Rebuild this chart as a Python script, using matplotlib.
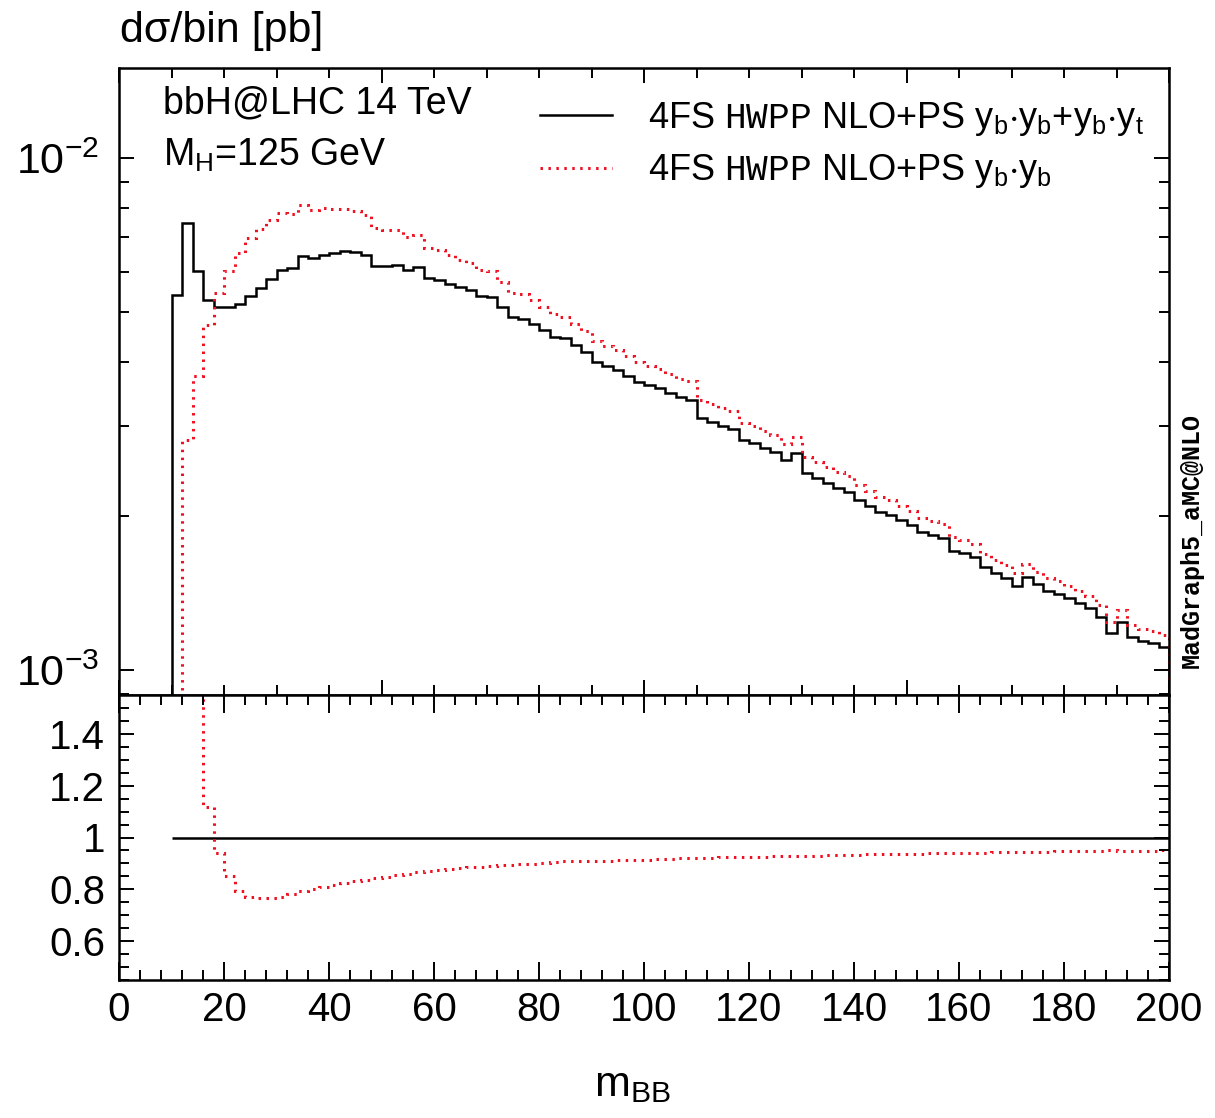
import numpy as np
import matplotlib
matplotlib.use("Agg")
import matplotlib.pyplot as plt
from matplotlib.ticker import MultipleLocator, FixedLocator, NullFormatter, FormatStrFormatter, LogLocator
from matplotlib.lines import Line2D

plt.rcParams['font.family'] = ['Liberation Sans', 'DejaVu Sans']
plt.rcParams['mathtext.fontset'] = 'custom'
plt.rcParams['mathtext.rm'] = 'Liberation Sans'
plt.rcParams['mathtext.it'] = 'Liberation Sans:italic'
plt.rcParams['mathtext.tt'] = 'Liberation Mono'
plt.rcParams['mathtext.default'] = 'regular'

# ---------------- data ----------------
# bin edges of m_BB (2 GeV bins), black histogram starts at 10 GeV
bin_edges = np.arange(10, 202, 2)

# 4FS HWPP NLO+PS yb*yb + yb*yt  (d sigma / bin, in units of 1e-3 pb)
black_vals = np.array([
    5.40, 7.46, 6.01, 5.28, 5.12, 5.11, 5.19, 5.38, 5.57, 5.80,
    6.04, 6.09, 6.44, 6.37, 6.47, 6.52, 6.58, 6.55, 6.47, 6.15,
    6.15, 6.18, 6.04, 6.12, 5.82, 5.78, 5.69, 5.59, 5.52, 5.38,
    5.36, 5.12, 4.89, 4.86, 4.75, 4.61, 4.48, 4.45, 4.31, 4.18,
    4.00, 3.92, 3.85, 3.75, 3.65, 3.60, 3.55, 3.48, 3.41, 3.37,
    3.11, 3.05, 3.00, 2.96, 2.81, 2.78, 2.71, 2.67, 2.57, 2.65,
    2.43, 2.37, 2.32, 2.27, 2.23, 2.15, 2.09, 2.04, 2.01, 1.96,
    1.92, 1.86, 1.84, 1.81, 1.71, 1.69, 1.66, 1.59, 1.55, 1.51,
    1.46, 1.52, 1.47, 1.43, 1.41, 1.38, 1.35, 1.32, 1.27, 1.18,
    1.24, 1.16, 1.14, 1.13, 1.11]) * 1e-3

# ratio panel: (yb*yb+yb*yt) / (yb*yb), bins starting at 12 GeV
ratio_vals = np.array([
    2.65, 1.60, 1.117, 0.94,
    0.85, 0.795, 0.772, 0.765, 0.766, 0.772, 0.782, 0.795, 0.803, 0.810,
    0.818, 0.826, 0.831, 0.837, 0.842, 0.848, 0.854, 0.860, 0.866, 0.871,
    0.875, 0.879, 0.882, 0.885, 0.888, 0.891, 0.893, 0.895, 0.897, 0.899,
    0.902, 0.905, 0.908,
    0.909, 0.910, 0.910, 0.911, 0.912, 0.913, 0.914,
    0.915, 0.916, 0.918, 0.919, 0.920, 0.921, 0.922, 0.923, 0.924, 0.925,
    0.926, 0.926, 0.927, 0.928, 0.929, 0.930, 0.930, 0.931, 0.932, 0.933,
    0.934, 0.935, 0.935, 0.936, 0.937, 0.938, 0.938, 0.939, 0.940, 0.940,
    0.941, 0.942, 0.942, 0.943, 0.943, 0.944, 0.944, 0.945, 0.945, 0.946,
    0.946, 0.947, 0.947, 0.948, 0.950, 0.948, 0.948, 0.949, 0.949, 0.950])
ratio_edges = bin_edges[1:]

# 4FS HWPP NLO+PS yb*yb (follows from the two quantities above)
red_vals = black_vals[1:] / ratio_vals

x_ticks_main = [0, 20, 40, 60, 80, 100, 120, 140, 160, 180, 200]
ratio_ticks = [0.6, 0.8, 1.0, 1.2, 1.4]

# ---------------- figure ----------------
W, H = 1215, 1118
fig = plt.figure(figsize=(W / 100, H / 100), dpi=100)

def fx(px):
    return px / W

def fy(py):
    return 1 - py / H

left, right = 119, 1169
ax = fig.add_axes([fx(left), fy(695), fx(right - left), fy(68) - fy(695)])
axr = fig.add_axes([fx(left), fy(980), fx(right - left), fy(695) - fy(980)])

red = '#ee1122'
dots = (0, (0.8, 1.8))
ax.stairs(black_vals, bin_edges, baseline=1e-6, color='black', lw=1.8)
ax.stairs(red_vals, ratio_edges, baseline=1e-6, color=red, lw=2.2, linestyle=dots)
ax.set_yscale('log')
ax.set_xlim(0, 200)
ax.set_ylim(8.94e-4, 1.5e-2)

axr.stairs(black_vals / black_vals, bin_edges, baseline=None, color='black', lw=1.8)
axr.stairs(ratio_vals, ratio_edges, baseline=None, color=red, lw=2.2, linestyle=dots)
axr.set_xlim(0, 200)
axr.set_ylim(0.45, 1.55)

for a in (ax, axr):
    for s in a.spines.values():
        s.set_linewidth(1.8)
    a.tick_params(which='both', direction='in', top=True, right=True,
                  width=1.4, labelsize=28, pad=10)
    a.tick_params(which='major', length=11)
    a.tick_params(which='minor', length=7)

ax.xaxis.set_major_locator(MultipleLocator(50))
ax.xaxis.set_minor_locator(MultipleLocator(10))
ax.tick_params(axis='x', labelbottom=False)
ax.tick_params(axis='y', which='major', labelsize=31, pad=14)
ax.yaxis.set_major_locator(LogLocator(base=10, numticks=10))
ax.yaxis.set_minor_locator(LogLocator(base=10, subs=np.arange(2, 10), numticks=20))
ax.yaxis.set_minor_formatter(NullFormatter())

axr.xaxis.set_major_locator(FixedLocator(x_ticks_main))
axr.xaxis.set_minor_locator(MultipleLocator(4))
axr.yaxis.set_major_locator(FixedLocator(ratio_ticks))
axr.yaxis.set_major_formatter(FormatStrFormatter('%g'))
axr.yaxis.set_minor_locator(MultipleLocator(0.05))
axr.tick_params(axis='x', which='major', length=13, pad=8, labelsize=29)
axr.tick_params(axis='y', labelsize=29)

# texts
fig.text(fx(120), fy(31), 'dσ/bin [pb]', fontsize=31, ha='left', va='center')
fig.text(fx(163), fy(103), 'bbH@LHC 14 TeV', fontsize=27, ha='left', va='center')
fig.text(fx(163), fy(155), r'M$_\mathregular{H}$=125 GeV', fontsize=27, ha='left', va='center')

h1 = Line2D([], [], color='black', lw=1.8)
h2 = Line2D([], [], color=red, lw=2.2, linestyle=dots)
lab1 = r'4FS $\mathtt{HWPP}$ NLO+PS y$_\mathregular{b}$$\cdot$y$_\mathregular{b}$+y$_\mathregular{b}$$\cdot$y$_\mathregular{t}$'
lab2 = r'4FS $\mathtt{HWPP}$ NLO+PS y$_\mathregular{b}$$\cdot$y$_\mathregular{b}$'
ax.legend([h1, h2], [lab1, lab2], loc='upper left',
          bbox_to_anchor=(fx(540), fy(100)), bbox_transform=fig.transFigure,
          frameon=False, fontsize=26, handlelength=2.0, handletextpad=1.0,
          labelspacing=0.4, borderpad=0, borderaxespad=0)

fig.text(fx(1192), fy(541), 'MadGraph5_aMC@NLO', rotation=90, family='Liberation Mono',
         fontweight='bold', fontsize=18, ha='center', va='center')
fig.text(fx(632), fy(1085), r'm$_\mathregular{BB}$', fontsize=31, ha='center', va='center')

fig.savefig('out.png', dpi=100)
